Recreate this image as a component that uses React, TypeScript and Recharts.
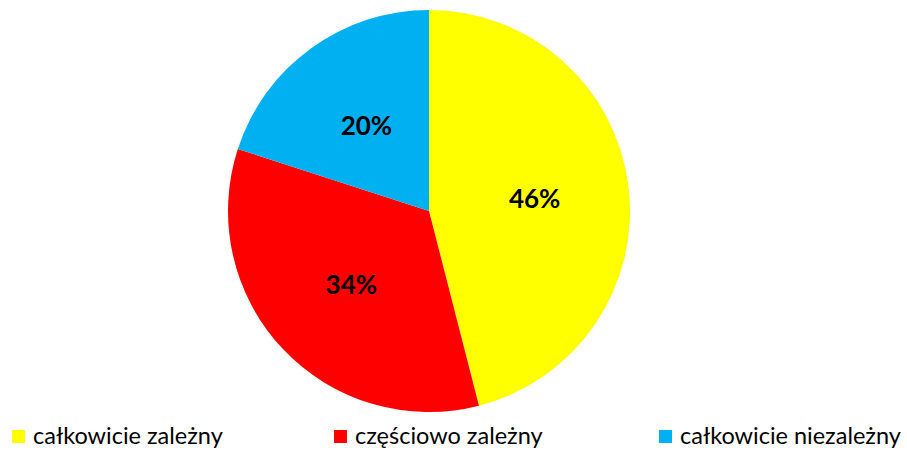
import React from "react";
import { PieChart, Pie, Cell } from "recharts";

const categories = ["całkowicie zależny", "częściowo zależny", "całkowicie niezależny"];
const shares = [46, 34, 20];
const colors = ["#FFFF00", "#FF0000", "#00B0F0"];

const data = categories.map((name, i) => ({ name, value: shares[i] }));

const RAD = Math.PI / 180;
const FONT = "Lato, 'Liberation Sans', sans-serif";

function renderLabel(props: any) {
  const { cx, cy, midAngle, outerRadius, value } = props;
  const r = outerRadius * 0.53;
  const x = cx + r * Math.cos(-midAngle * RAD);
  const y = cy + r * Math.sin(-midAngle * RAD);
  return (
    <text
      x={x}
      y={y}
      fill="#000"
      textAnchor="middle"
      dominantBaseline="central"
      fontFamily={FONT}
      fontWeight={700}
      fontSize={26}
    >
      {value}%
    </text>
  );
}

const legendX = [12, 334, 659];

export default function App() {
  return (
    <div style={{ position: "absolute", left: 0, top: 0, width: 907, height: 450, background: "#fff", overflow: "hidden" }}>
      <PieChart width={907} height={450} margin={{ top: 0, right: 0, bottom: 0, left: 0 }}>
        <Pie
          data={data}
          dataKey="value"
          cx={429}
          cy={211}
          outerRadius={201}
          startAngle={90}
          endAngle={-270}
          stroke="none"
          label={renderLabel}
          labelLine={false}
          isAnimationActive={false}
        >
          {data.map((d, i) => (
            <Cell key={d.name} fill={colors[i]} />
          ))}
        </Pie>
      </PieChart>
      <svg width={907} height={450} style={{ position: "absolute", left: 0, top: 0, pointerEvents: "none" }}>
        {categories.map((c, i) => (
          <g key={c}>
            <rect x={legendX[i]} y={430} width={13} height={13} fill={colors[i]} />
            <text x={legendX[i] + 21} y={444} fontFamily={FONT} fontSize={23.5} fill="#000">
              {c}
            </text>
          </g>
        ))}
      </svg>
    </div>
  );
}
